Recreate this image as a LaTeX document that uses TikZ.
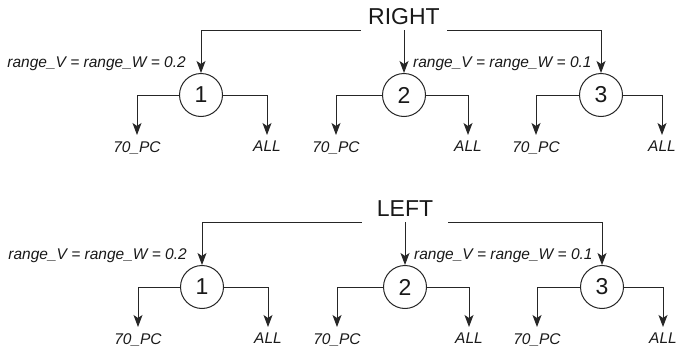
\documentclass[tikz,border=0pt]{standalone}
\usepackage{fontspec}
\setmainfont{Liberation Sans}
\usetikzlibrary{arrows.meta}
\tikzset{
	wire/.style={draw=black!85, line width=1pt},
	title/.style={font=\fontsize{23}{26}\selectfont, text=black!90, minimum width=86pt, inner xsep=0pt, inner ysep=5pt, anchor=south},
	split/.style={circle, draw=black!85, line width=1pt, minimum size=43pt, inner sep=0pt, font=\fontsize{23}{26}\selectfont, text=black!90},
	leaf/.style={font=\fontsize{15.5}{18}\selectfont\itshape, text=black!90, inner sep=6pt, anchor=north},
	rangelabel/.style={font=\fontsize{15.5}{18}\selectfont\itshape, text=black!90, inner sep=0pt},
}
\begin{document}
\begin{tikzpicture}[x=1pt, y=-1pt, >={Stealth[length=12pt,width=9pt,inset=3pt]}]
	\useasboundingbox (0,0) rectangle (678,351);
	\foreach \word/\dx/\dy in {RIGHT/0/0, LEFT/1/192}{
		\begin{scope}[shift={(\dx,\dy)}]
			\node[title] (\word) at (404,30) {\word};
			\foreach \i/\cx/\lx/\rx in {1/201/137/267, 2/404/336/468, 3/601/536/662}{
				\node[split] (\word-\i) at (\cx,95) {\i};
				\node[leaf] (\word-\i-pc) at (\lx,135) {70\_PC};
				\node[leaf] (\word-\i-all) at (\rx,135) {ALL};
				\draw[wire,->] (\word-\i.west) -| (\word-\i-pc);
				\draw[wire,->] (\word-\i.east) -| (\word-\i-all);
			}
			\draw[wire,->] (\word.south west) -| (\word-1);
			\draw[wire,->] (\word.south) -- (\word-2);
			\draw[wire,->] (\word.south east) -| (\word-3);
			\node[rangelabel, anchor=base east] (\word-wide) at (186,67) {range\_V = range\_W = 0.2};
			\node[rangelabel, anchor=base west] (\word-narrow) at (413,67) {range\_V = range\_W = 0.1};
		\end{scope}
	}
\end{tikzpicture}
\end{document}
